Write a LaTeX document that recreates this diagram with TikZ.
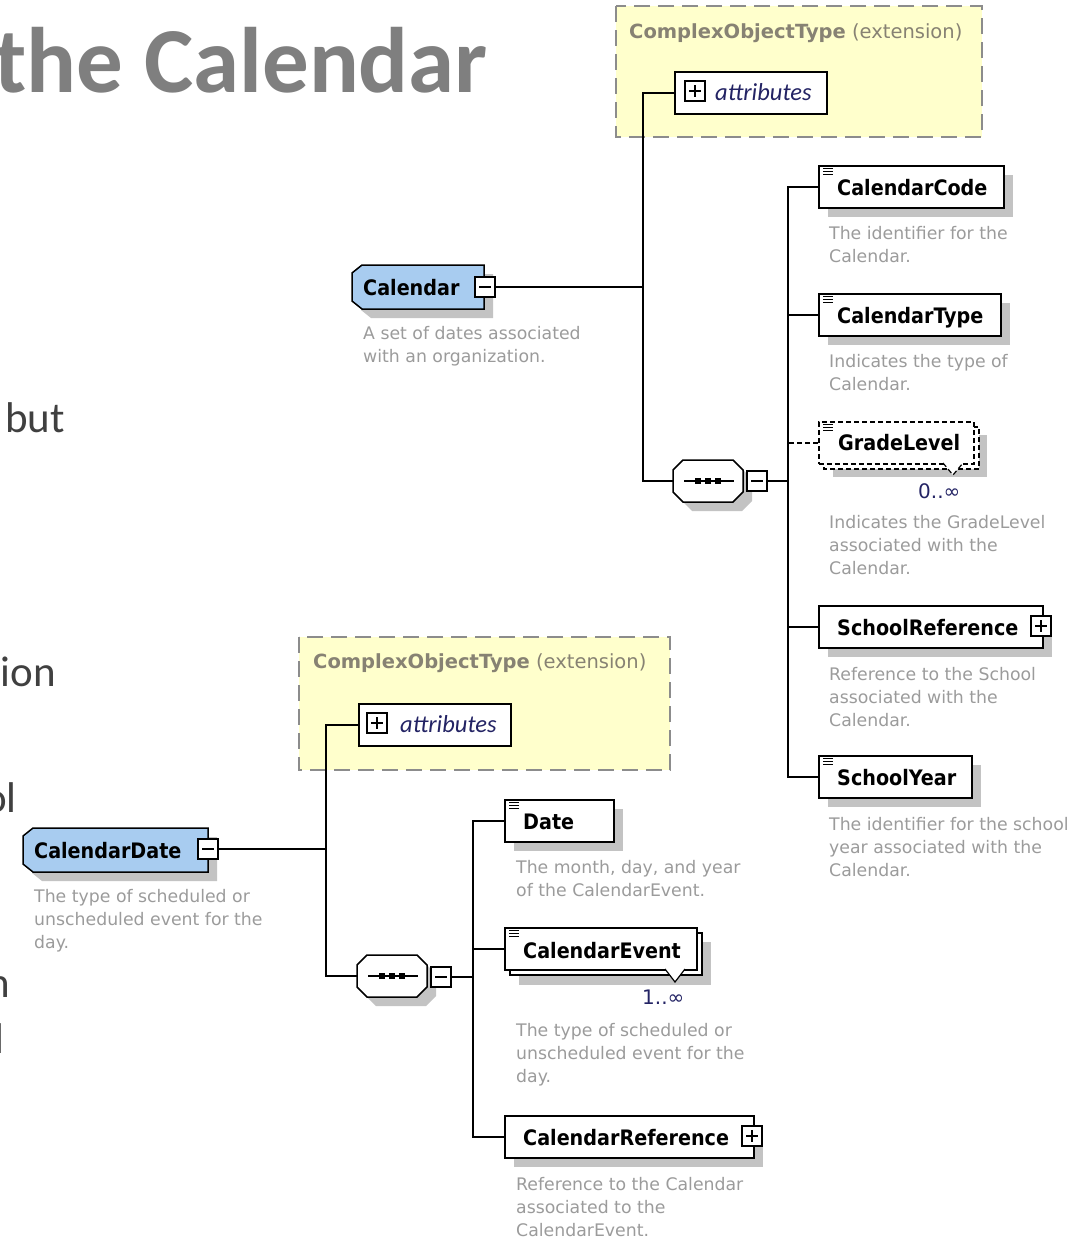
\documentclass[tikz,border=0pt]{standalone}
\usepackage{fontspec}
\setmainfont{DejaVu Sans Condensed}
\newfontfamily\titlefont{Carlito}
\newfontfamily\widefont{DejaVu Sans}
\usetikzlibrary{shadows,calc}

\definecolor{ybg}{RGB}{255,255,204}
\definecolor{ybd}{RGB}{140,140,140}
\definecolor{cblue}{RGB}{168,204,240}
\definecolor{desc}{RGB}{155,155,155}
\definecolor{cot}{RGB}{135,130,115}
\definecolor{attr}{RGB}{35,35,100}
\definecolor{shad}{RGB}{195,195,195}
\definecolor{titleg}{RGB}{127,127,127}
\definecolor{fragc}{RGB}{64,64,64}

\newcommand\dtwo[2]{\vtop{\baselineskip=23pt\hbox{#1}\hbox{#2}}}
\newcommand\dthree[3]{\vtop{\baselineskip=23pt\hbox{#1}\hbox{#2}\hbox{#3}}}
\newcommand\minussign[1]{\draw[line width=1.5pt] ($(#1.center)+(-6,0)$) -- ($(#1.center)+(6,0)$);}
\newcommand\plussign[1]{\minussign{#1}\draw[line width=1.5pt] ($(#1.center)+(0,-6)$) -- ($(#1.center)+(0,6)$);}
\newcommand\docicon[1]{\draw[line width=1.1pt] ($(#1.north west)+(5,3.5)$) -- ++(10,0) ($(#1.north west)+(5,6.5)$) -- ++(10,0) ($(#1.north west)+(5,9.5)$) -- ++(10,0);}
\newcommand\calshape[4]{%
  \fill[shad] (#1+19,#2+9) -- (#3+9,#2+9) -- (#3+9,#4+9) -- (#1+19,#4+9) -- (#1+9,#4+1) -- (#1+9,#2+17) -- cycle;
  \draw[fill=cblue, line width=1.5pt] (#1+10,#2) -- (#3,#2) -- (#3,#4) -- (#1+10,#4) -- (#1,#4-8) -- (#1,#2+8) -- cycle;}
\newcommand\seqshape[3]{%
  \node[inner sep=0, minimum width=70, minimum height=42, anchor=north west] (#1) at (#2,#3) {};
  \begin{scope}[shift={(#2,#3)}]
    \fill[shad] (19,9)--(69,9)--(79,19)--(79,41)--(69,51)--(19,51)--(9,41)--(9,19)--cycle;
    \draw[fill=white, line width=1.5pt] (10,0)--(60,0)--(70,10)--(70,32)--(60,42)--(10,42)--(0,32)--(0,10)--cycle;
    \draw[line width=1.5pt] (11,21)--(61,21);
    \fill (22,18) rectangle ++(6,6);
    \fill (32,18) rectangle ++(6,6);
    \fill (42,18) rectangle ++(6,6);
  \end{scope}}

\tikzset{
  shd/.style={drop shadow={shadow xshift=9pt, shadow yshift=-9pt, fill=shad, opacity=1}},
  elem/.style={draw, fill=white, line width=1.5pt, anchor=north west, minimum height=42, inner sep=0, shd},
  ename/.style={font=\bfseries\fontsize{21.3}{25}\selectfont, anchor=base west, inner sep=0},
  dsc/.style={font=\widefont\fontsize{17.3}{23}\selectfont, text=desc, anchor=base west, inner sep=0},
  pmbox/.style={draw, fill=white, line width=1.5pt, minimum size=20, inner sep=0},
  ybox/.style={draw=ybd, fill=ybg, line width=2pt, dash pattern=on 16pt off 8pt},
  attrbox/.style={draw, fill=white, line width=1.5pt, anchor=north west, minimum height=42, inner sep=0},
  cotxt/.style={font=\widefont\fontsize{19.5}{22}\selectfont, text=cot, anchor=base west, inner sep=0},
  attrtxt/.style={font=\titlefont\itshape\fontsize{24.5}{27}\selectfont, text=attr, anchor=base west, inner sep=0},
  mult/.style={font=\widefont\fontsize{20}{23}\selectfont, text=attr, anchor=base west, inner sep=0},
  conn/.style={line width=1.5pt},
  dsh/.style={dash pattern=on 5pt off 3pt},
  frag/.style={font=\titlefont\fontsize{43}{50}\selectfont, text=fragc, anchor=base east, inner sep=0},
}

\begin{document}
\begin{tikzpicture}[x=1pt,y=-1pt]
\useasboundingbox (0,0) rectangle (1089,1237);
\clip (0,0) rectangle (1089,1237);

% title and cut-off slide text
\node[font=\titlefont\bfseries\fontsize{93}{110}\selectfont, text=titleg, anchor=base east, inner sep=0] (title) at (488,92) {the Calendar};
\node[frag] (f1) at (65,432) {but};
\node[frag] (f2) at (56,686) {ion};
\node[frag] (f3) at (17,812) {ol};
\node[frag] (f4) at (10,997) {n};
\node[frag] (f5) at (5,1053) {l};

% ===== upper diagram =====
\draw[ybox] (616,6) rectangle (982,137);
\node[cotxt] (cot1) at (629,38) {\textbf{ComplexObjectType} (extension)};
\node[attrbox, minimum width=152] (at1) at (674,71) {};
\node[pmbox] (at1p) at (695,91) {};
\plussign{at1p}
\node[attrtxt] (at1t) at (715,100) {attributes};

\calshape{352}{265}{484}{309}
\node[inner sep=0, minimum width=132, minimum height=44, anchor=north west] (cal) at (352,265) {};
\node[ename] (calt) at (363,295) {Calendar};
\node[pmbox] (calm) at (485,287) {};
\minussign{calm}
\node[dsc] (cald) at (363,339) {\dtwo{A set of dates associated}{with an organization.}};

\seqshape{s1}{673}{460}
\node[pmbox] (s1m) at (757,481) {};
\minussign{s1m}

\coordinate (j1) at (643,287);
\coordinate (k1) at (788,481);
\draw[conn] (at1.west) -| (j1) |- (s1.west);
\draw[conn] (calm.east) -- (j1);
\draw[conn] (s1m.east) -- (k1);

% CalendarCode
\node[elem, minimum width=185] (cc) at (818,165) {};
\docicon{cc}
\node[ename] (cct) at (837,195) {CalendarCode};
\node[dsc] (ccd) at (829,239) {\dtwo{The identifier for the}{Calendar.}};
% CalendarType
\node[elem, minimum width=182] (ct) at (818,293) {};
\docicon{ct}
\node[ename] (ctt) at (837,323) {CalendarType};
\node[dsc] (ctd) at (829,367) {\dtwo{Indicates the type of}{Calendar.}};
% GradeLevel
\fill[shad] (833,435) rectangle (987,477);
\draw[dsh, fill=white, line width=1.5pt] (824,427) rectangle (979,469);
\node[draw, dsh, fill=white, line width=1.5pt, anchor=north west, minimum width=155, minimum height=42, inner sep=0] (gl) at (818,421) {};
\draw[dsh, fill=white, line width=1.2pt] (943,463) -- (953,475) -- (963,463);
\docicon{gl}
\node[ename] (glt) at (838,450) {GradeLevel};
\node[mult] (glm) at (918,498) {0..∞};
\node[dsc] (gld) at (829,528) {\dthree{Indicates the GradeLevel}{associated with the}{Calendar.}};
% SchoolReference
\node[elem, minimum width=224] (sr) at (818,605) {};
\node[pmbox] (srp) at (1041,626) {};
\plussign{srp}
\node[ename] (srt) at (837,635) {SchoolReference};
\node[dsc] (srd) at (829,680) {\dthree{Reference to the School}{associated with the}{Calendar.}};
% SchoolYear
\node[elem, minimum width=153] (sy) at (818,755) {};
\docicon{sy}
\node[ename] (syt) at (837,785) {SchoolYear};
\node[dsc] (syd) at (829,830) {\dthree{The identifier for the school}{year associated with the}{Calendar.}};

\draw[conn] (cc.west) -| (k1);
\draw[conn] (ct.west) -| (k1);
\draw[conn] (sr.west) -| (k1);
\draw[conn] (sy.west) -| (k1);
\draw[conn, dsh] (gl.west) -- (gl.west -| k1);

% ===== lower diagram =====
\draw[ybox] (299,637) rectangle (670,770);
\node[cotxt] (cot2) at (313,668) {\textbf{ComplexObjectType} (extension)};
\node[attrbox, minimum width=152] (at2) at (358,703) {};
\node[pmbox] (at2p) at (377,723) {};
\plussign{at2p}
\node[attrtxt] (at2t) at (400,732) {attributes};

\calshape{23}{828}{208}{872}
\node[inner sep=0, minimum width=185, minimum height=44, anchor=north west] (cd) at (23,828) {};
\node[ename] (cdt) at (34,858) {CalendarDate};
\node[pmbox] (cdm) at (208,849) {};
\minussign{cdm}
\node[dsc] (cdd) at (34,902) {\dthree{The type of scheduled or}{unscheduled event for the}{day.}};

\seqshape{s2}{357}{955}
\node[pmbox] (s2m) at (441,977) {};
\minussign{s2m}

\coordinate (j2) at (326,849);
\coordinate (k2) at (473,977);
\draw[conn] (at2.west) -| (j2) |- (s2.west);
\draw[conn] (cdm.east) -- (j2);
\draw[conn] (s2m.east) -- (k2);

% Date
\node[elem, minimum width=109] (dt) at (504,799) {};
\docicon{dt}
\node[ename] (dtt) at (523,829) {Date};
\node[dsc] (dtd) at (516,873) {\dtwo{The month, day, and year}{of the CalendarEvent.}};
% CalendarEvent
\fill[shad] (519,942) rectangle (711,985);
\draw[fill=white, line width=1.5pt] (510,933) rectangle (702,975);
\node[draw, fill=white, line width=1.5pt, anchor=north west, minimum width=192, minimum height=42, inner sep=0] (ce) at (504,927) {};
\draw[fill=white, line width=1.2pt] (665,969) -- (675,982) -- (685,969);
\docicon{ce}
\node[ename] (cet) at (523,958) {CalendarEvent};
\node[mult] (cem) at (642,1004) {1..∞};
\node[dsc] (ced) at (516,1036) {\dthree{The type of scheduled or}{unscheduled event for the}{day.}};
% CalendarReference
\node[elem, minimum width=249] (cr) at (504,1115) {};
\node[pmbox] (crp) at (752,1136) {};
\plussign{crp}
\node[ename] (crt) at (523,1145) {CalendarReference};
\node[dsc] (crd) at (516,1190) {\dthree{Reference to the Calendar}{associated to the}{CalendarEvent.}};

\draw[conn] (dt.west) -| (k2);
\draw[conn] (ce.west) -| (k2);
\draw[conn] (cr.west) -| (k2);
\end{tikzpicture}
\end{document}
